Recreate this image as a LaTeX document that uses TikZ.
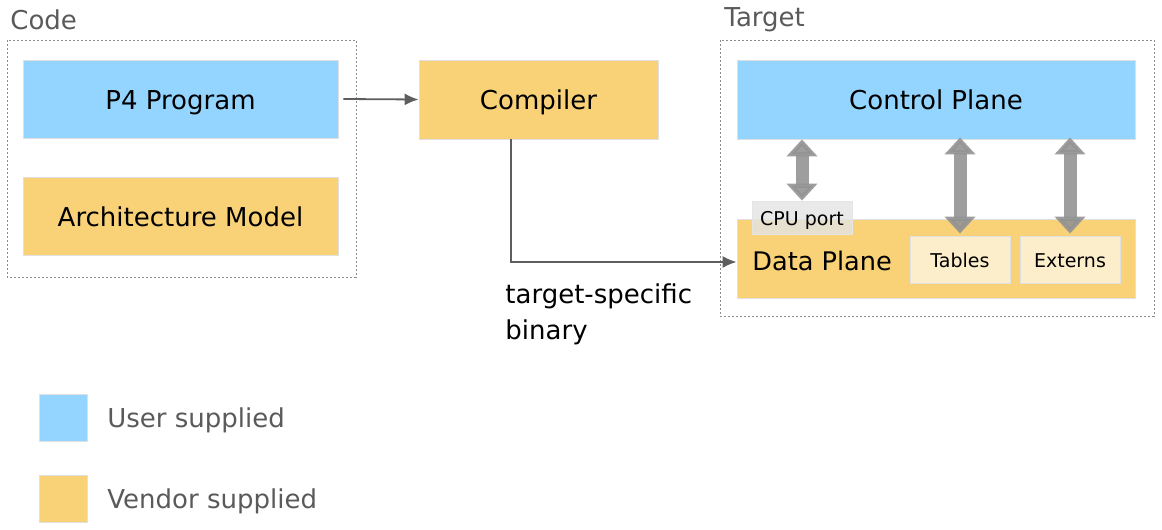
\documentclass[tikz,border=0pt]{standalone}
\usepackage{fontspec}
\setmainfont{DejaVu Sans}
\usetikzlibrary{arrows.meta}
\definecolor{userblue}{HTML}{93D5FF}
\definecolor{vendororange}{HTML}{F9D278}
\definecolor{paleorange}{HTML}{FDEECB}
\definecolor{portgray}{HTML}{E4E4E4}
\definecolor{labelgray}{HTML}{5A5A5A}
\definecolor{linegray}{HTML}{5E5E5E}
\definecolor{busgray}{HTML}{939393}

\tikzset{
  block/.style={draw=black!12, inner sep=0pt, text height=12pt, text depth=2pt, font=\fontsize{13}{15}\selectfont},
  userblock/.style={block, fill=userblue},
  vendorblock/.style={block, fill=vendororange},
  smallblock/.style={draw=black!12, fill=paleorange, inner sep=0pt, text height=9pt, text depth=1.5pt, minimum width=50pt, minimum height=23.5pt, font=\fontsize{9.5}{11}\selectfont},
  region/.style={draw=black!45, dash pattern=on 1pt off 1pt, line width=0.4pt},
  regionlabel/.style={text=labelgray, anchor=west, inner sep=0pt, font=\fontsize{13}{15}\selectfont},
  flow/.style={-{Latex[length=7pt,width=6pt]}, draw=linegray, line width=0.9pt},
  bus/.style={{Triangle[width=15pt,length=8.5pt]}-{Triangle[width=15pt,length=8.5pt]}, draw=busgray, line width=6.5pt, opacity=0.9},
}

\begin{document}
\begin{tikzpicture}[x=0.5pt,y=-0.5pt]
\useasboundingbox (0,0) rectangle (1162,530);
% Code region
\draw[region] (7,40) rectangle (356,277);
\node[regionlabel] (codelabel) at (10,20) {Code};
\node[userblock, minimum width=157.5pt, minimum height=39pt] (p4) at (180.5,99) {P4 Program};
\node[vendorblock, minimum width=157.5pt, minimum height=39pt] (arch) at (180.5,216) {Architecture Model};

% Compiler
\node[vendorblock, minimum width=119.5pt, minimum height=39.5pt] (compiler) at (538.5,99.5) {Compiler};

% Target region
\draw[region] (720,40) rectangle (1154,316);
\node[regionlabel] (targetlabel) at (724,20) {Target};
\node[userblock, minimum width=199pt, minimum height=39.5pt] (ctrl) at (936,99.5) {Control Plane};
\node[vendorblock, minimum width=199pt, minimum height=39.5pt] (data) at (936,258.5) {};
\node[anchor=west, inner sep=0pt, font=\fontsize{12.8}{15}\selectfont] (datalabel) at (752,261) {Data Plane};
\node[draw=black!10, fill=portgray, fill opacity=0.8, text opacity=1, inner sep=0pt, text height=9pt, text depth=1.5pt,
  minimum width=50pt, minimum height=16.5pt, font=\fontsize{9.5}{11}\selectfont] (cpu) at (802,217.5) {CPU port};
\node[smallblock] (tables) at (960,259.5) {Tables};
\node[smallblock] (externs) at (1070,259.5) {Externs};

% Connectors
\draw[flow] ([xshift=2.5pt]p4.east) -- (compiler.west);
\draw[flow] ([xshift=-13.75pt]compiler.south) |- ([yshift=-1.75pt]data.west);
\node[anchor=west, align=left, inner sep=0pt, font=\fontsize{13}{18}\selectfont] (binarylabel) at (505,314) {target-specific\\binary};

% Control / data plane buses
\draw[bus] (ctrl.south -| cpu.north) -- (cpu.north);
\draw[bus] ([yshift=1pt]ctrl.south -| tables.north) -- ([yshift=1pt]tables.north);
\draw[bus] ([yshift=1pt]ctrl.south -| externs.north) -- ([yshift=1pt]externs.north);

% Legend
\node[userblock, minimum width=24pt, minimum height=23.5pt] (userkey) at (63,417.5) {};
\node[regionlabel] (usertext) at (107,420) {User supplied};
\node[vendorblock, minimum width=24pt, minimum height=23.5pt] (vendorkey) at (63,498.5) {};
\node[regionlabel] (vendortext) at (107,501) {Vendor supplied};
\end{tikzpicture}
\end{document}
